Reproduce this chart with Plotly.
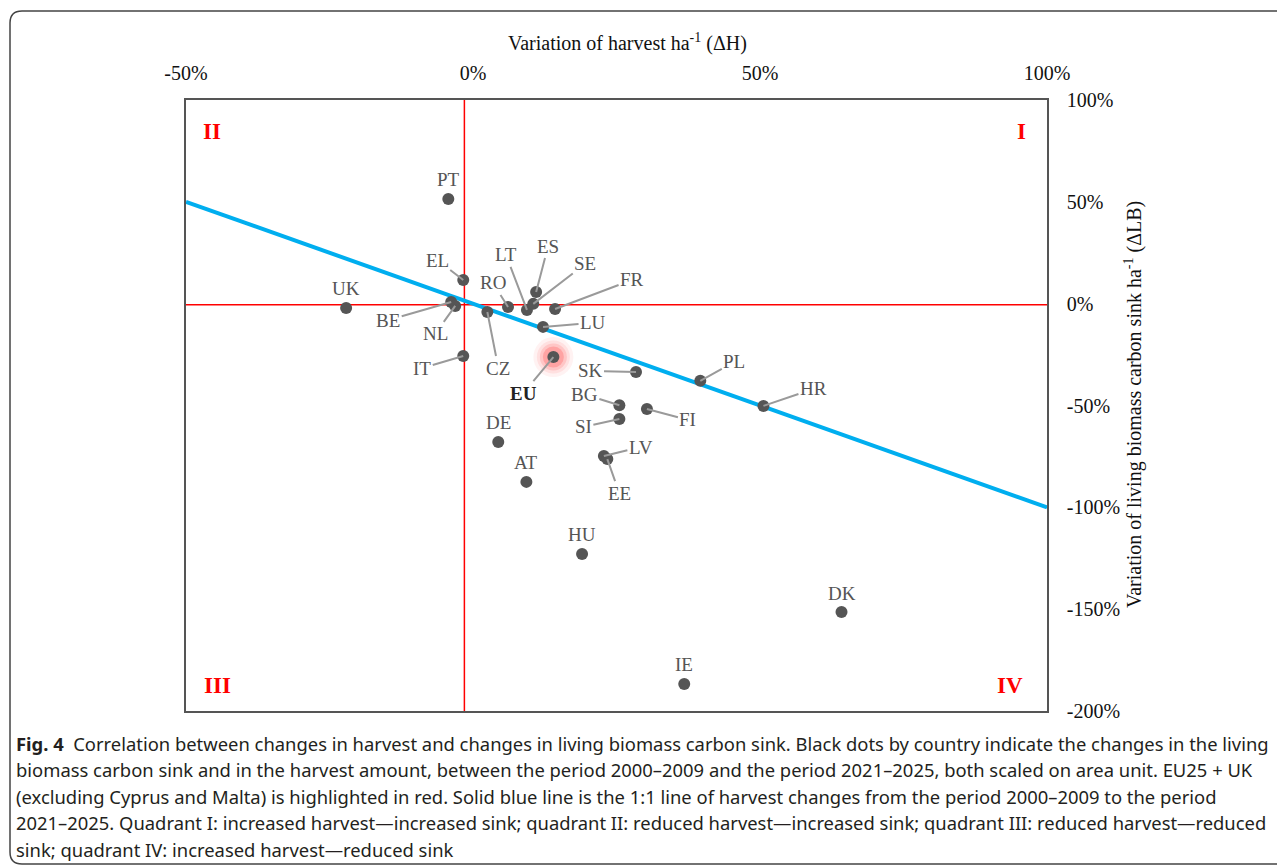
import plotly.graph_objects as go

# ---- data ----
countries = ["PT", "EL", "UK", "BE", "NL", "CZ", "RO", "LT", "SE", "ES", "FR", "LU",
             "IT", "EU", "SK", "PL", "HR", "BG", "SI", "FI", "DE", "AT", "LV", "EE",
             "HU", "DK", "IE"]
delta_h = [-4.3, -1.7, -22.1, -3.8, -3.1, 2.5, 6.1, 9.4, 10.5, 11.0, 14.3, 12.2,
           -1.7, 14.0, 28.4, 39.6, 50.6, 25.5, 25.5, 30.3, 4.4, 9.3, 22.8, 23.4,
           19.0, 64.2, 36.8]
delta_lb = [51.4, 11.6, -2.1, 0.8, -1.1, -4.1, -1.6, -3.1, -0.1, 5.7, -2.6, -11.4,
            -25.7, -26.2, -33.5, -37.9, -50.2, -49.9, -56.6, -51.7, -67.9, -87.5, -74.8, -76.3,
            -122.9, -151.4, -186.7]

x_ticks = [-50, 0, 50, 100]
x_ticktext = ["-50%", "0%", "50%", "100%"]
y_ticks = [100, 50, 0, -50, -100, -150, -200]
y_ticktext = ["100%", "50%", "0%", "-50%", "-100%", "-150%", "-200%"]

line_x = [-50, 100]
line_y = [50, -100]

quad_v_x = [-1.5, -1.5]
quad_v_y = [-200, 100]
quad_h_x = [-50, 100]
quad_h_y = [-0.5, -0.5]

quadrants = ["II", "I", "III", "IV"]

caption_lines = [
    "<b>Fig. 4</b>  Correlation between changes in harvest and changes in living biomass carbon sink. Black dots by country indicate the changes in the living",
    "biomass carbon sink and in the harvest amount, between the period 2000–2009 and the period 2021–2025, both scaled on area unit. EU25 + UK",
    "(excluding Cyprus and Malta) is highlighted in red. Solid blue line is the 1:1 line of harvest changes from the period 2000–2009 to the period",
    "2021–2025. Quadrant I: increased harvest—increased sink; quadrant II: reduced harvest—increased sink; quadrant III: reduced harvest—reduced",
    "sink; quadrant IV: increased harvest—reduced sink",
]

# ---- label placement (pixel offsets of label from dot; None -> label above, no leader) ----
label_offsets = {
    "PT": None, "UK": None, "DE": None, "AT": None, "HU": None, "DK": None, "IE": None,
    "EL": (-26, -20), "BE": (-63, 18), "NL": (-20, 28), "CZ": (11, 56), "RO": (-15, -24),
    "LT": (-21, -55), "ES": (12, -46), "SE": (52, -40), "FR": (77, -29), "LU": (50, -4),
    "IT": (-41, 12), "EU": (-30, 36), "SK": (-46, -1), "PL": (34, -19), "HR": (50, -17),
    "BG": (-35, -11), "SI": (-36, 8), "FI": (41, 11), "LV": (37, -9), "EE": (12, 34),
}

# page body has an 8px margin: work in reference pixels, shift by OFF
OFF = 8
W, H = 1285 - OFF, 866 - OFF
L, R, T, B = 186, 1047, 100, 711   # plot frame in reference pixels


def px(x):
    return (x - L) / (R - L)


def py(y):
    return (B - y) / (B - T)


SERIF = "Liberation Serif"
DOT = "#555555"

fig = go.Figure()

fig.add_trace(go.Scatter(x=quad_v_x, y=quad_v_y, mode="lines",
                         line=dict(color="#ff0000", width=1.5), hoverinfo="skip"))
fig.add_trace(go.Scatter(x=quad_h_x, y=quad_h_y, mode="lines",
                         line=dict(color="#ff0000", width=1.5), hoverinfo="skip"))
fig.add_trace(go.Scatter(x=line_x, y=line_y, mode="lines",
                         line=dict(color="#00aeef", width=4), hoverinfo="skip"))

eu_i = countries.index("EU")
for size, alpha in [(40, 0.06), (33, 0.09), (27, 0.14), (21, 0.22)]:
    fig.add_trace(go.Scatter(x=[delta_h[eu_i]], y=[delta_lb[eu_i]], mode="markers",
                             marker=dict(size=size, color=f"rgba(255,40,40,{alpha})", line=dict(width=0)),
                             hoverinfo="skip"))

fig.add_trace(go.Scatter(x=delta_h, y=delta_lb, mode="markers", text=countries,
                         marker=dict(size=12, color=DOT, line=dict(width=0))))

annotations = []
for c, xv, yv in zip(countries, delta_h, delta_lb):
    off = label_offsets[c]
    txt = f"<b>{c}</b>" if c == "EU" else c
    col = "#222222" if c == "EU" else DOT
    if off is None:
        annotations.append(dict(x=xv, y=yv, xref="x", yref="y", text=txt, showarrow=False,
                                yshift=19, font=dict(family=SERIF, size=19, color=col)))
    else:
        annotations.append(dict(x=xv, y=yv, xref="x", yref="y", text=txt, showarrow=True,
                                ax=off[0], ay=off[1], arrowhead=0, arrowwidth=2,
                                arrowcolor="#9a9a9a", standoff=0, borderpad=1,
                                font=dict(family=SERIF, size=19, color=col)))

quad_pos = [(212, 131), (1021, 131), (217, 685), (1010, 685)]
for q, (qx, qy) in zip(quadrants, quad_pos):
    annotations.append(dict(x=px(qx), y=py(qy), xref="paper", yref="paper", text=f"<b>{q}</b>",
                            xanchor="center", yanchor="middle",
                            showarrow=False, font=dict(family=SERIF, size=23, color="#ff0000")))

annotations.append(dict(x=px(627), y=py(42), xref="paper", yref="paper",
                        xanchor="center", yanchor="middle",
                        text="Variation of harvest ha<sup>-1</sup> (ΔH)", showarrow=False,
                        font=dict(family=SERIF, size=20, color="#111111")))
annotations.append(dict(x=px(1133), y=py(405), xref="paper", yref="paper", textangle=-90,
                        xanchor="center", yanchor="middle",
                        text="Variation of living biomass carbon sink ha<sup>-1</sup> (ΔLB)",
                        showarrow=False, font=dict(family=SERIF, size=20, color="#111111")))

cap_y = [743, 769, 796, 822, 849]
for line, cy in zip(caption_lines, cap_y):
    annotations.append(dict(x=px(14), y=py(cy), xref="paper", yref="paper", text=line,
                            xanchor="left", yanchor="middle", showarrow=False, align="left",
                            font=dict(family="Noto Sans", size=18.4, color="#231f20")))

r = 12
bx0, by0, bx1, by1 = 10, 11, 1300, 864
path = (f"M {px(bx1)},{py(by0)} L {px(bx0 + r)},{py(by0)} "
        f"Q {px(bx0)},{py(by0)} {px(bx0)},{py(by0 + r)} "
        f"L {px(bx0)},{py(by1 - r)} Q {px(bx0)},{py(by1)} {px(bx0 + r)},{py(by1)} "
        f"L {px(bx1)},{py(by1)}")

fig.update_layout(
    width=W, height=H,
    margin=dict(l=L - OFF, r=W - (R - OFF), t=T - OFF, b=H - (B - OFF), pad=0),
    paper_bgcolor="white", plot_bgcolor="white",
    showlegend=False,
    annotations=annotations,
    shapes=[dict(type="path", path=path, xref="paper", yref="paper",
                 line=dict(color="#444444", width=1.5))],
    xaxis=dict(range=[-50, 100], side="top", tickmode="array", tickvals=x_ticks,
               ticktext=x_ticktext, showgrid=False, zeroline=False, showline=True,
               mirror=True, linecolor="#555555", linewidth=1.5, ticks="",
               ticklabelstandoff=10,
               tickfont=dict(family=SERIF, size=20, color="#111111")),
    yaxis=dict(range=[-200, 100], side="right", tickmode="array", tickvals=y_ticks,
               ticktext=y_ticktext, showgrid=False, zeroline=False, showline=True,
               mirror=True, linecolor="#555555", linewidth=1.5, ticks="",
               ticklabelstandoff=14,
               tickfont=dict(family=SERIF, size=20, color="#111111")),
)

fig.write_html("out.html")
